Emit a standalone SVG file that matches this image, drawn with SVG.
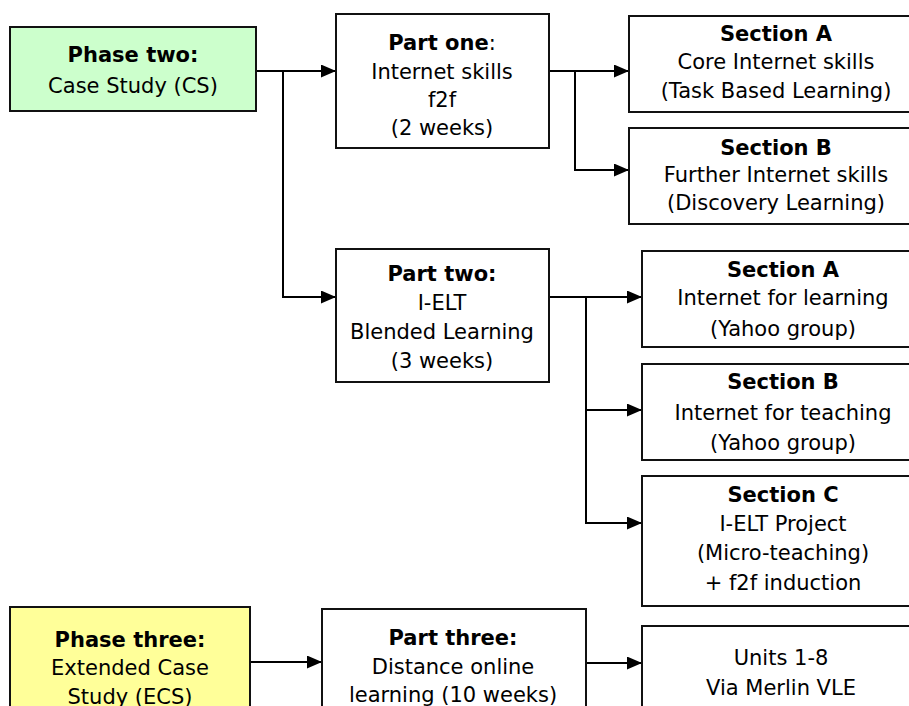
<svg xmlns="http://www.w3.org/2000/svg" width="909" height="706" viewBox="0 0 909 706">
  <defs>
    <marker id="arrow" markerWidth="15" markerHeight="13" refX="15" refY="6.5" orient="auto" markerUnits="userSpaceOnUse">
      <path d="M0,0 L15,6.5 L0,13 Z" fill="#000"/>
    </marker>
    <style>
      .box { fill: #fff; stroke: #111; stroke-width: 2; }
      .green { fill: #ccffcc; }
      .yellow { fill: #ffff99; }
      text { font-family: "DejaVu Sans", Verdana, sans-serif; font-size: 21px; fill: #000; text-anchor: middle; }
      .b { font-weight: bold; }
      .link { fill: none; stroke: #000; stroke-width: 2; }
    </style>
  </defs>
  <rect width="909" height="706" fill="#fff"/>

  <!-- connectors -->
  <g id="connectors">
    <path class="link" d="M256,71 H336" marker-end="url(#arrow)"/>
    <path class="link" d="M283,71 V297 H336" marker-end="url(#arrow)"/>
    <path class="link" d="M549,71 H629" marker-end="url(#arrow)"/>
    <path class="link" d="M575,71 V170 H629" marker-end="url(#arrow)"/>
    <path class="link" d="M549,297 H642" marker-end="url(#arrow)"/>
    <path class="link" d="M586,297 V410 H642" marker-end="url(#arrow)"/>
    <path class="link" d="M586,410 V523 H642" marker-end="url(#arrow)"/>
    <path class="link" d="M250,662 H322" marker-end="url(#arrow)"/>
    <path class="link" d="M586,663 H642" marker-end="url(#arrow)"/>
  </g>

  <g id="phase-two">
    <rect class="box green" x="10" y="27" width="246" height="84"/>
    <text x="133" y="62" class="b">Phase two:</text>
    <text x="133" y="93">Case Study (CS)</text>
  </g>

  <g id="part-one">
    <rect class="box" x="336" y="14" width="213" height="134"/>
    <text x="442" y="50"><tspan class="b">Part one</tspan>:</text>
    <text x="442" y="79">Internet skills</text>
    <text x="442" y="107">f2f</text>
    <text x="442" y="135">(2 weeks)</text>
  </g>

  <g id="part-two">
    <rect class="box" x="336" y="249" width="213" height="133"/>
    <text x="442" y="281" class="b">Part two:</text>
    <text x="442" y="310">I-ELT</text>
    <text x="442" y="339">Blended Learning</text>
    <text x="442" y="368">(3 weeks)</text>
  </g>

  <g id="p1-section-a">
    <rect class="box" x="629" y="16" width="296" height="96"/>
    <text x="776" y="41" class="b">Section A</text>
    <text x="776" y="69">Core Internet skills</text>
    <text x="776" y="98">(Task Based Learning)</text>
  </g>

  <g id="p1-section-b">
    <rect class="box" x="629" y="128" width="296" height="96"/>
    <text x="776" y="155" class="b">Section B</text>
    <text x="776" y="182">Further Internet skills</text>
    <text x="776" y="210">(Discovery Learning)</text>
  </g>

  <g id="p2-section-a">
    <rect class="box" x="642" y="251" width="283" height="96"/>
    <text x="783" y="277" class="b">Section A</text>
    <text x="783" y="305">Internet for learning</text>
    <text x="783" y="336">(Yahoo group)</text>
  </g>

  <g id="p2-section-b">
    <rect class="box" x="642" y="364" width="283" height="96"/>
    <text x="783" y="389" class="b">Section B</text>
    <text x="783" y="420">Internet for teaching</text>
    <text x="783" y="450">(Yahoo group)</text>
  </g>

  <g id="p2-section-c">
    <rect class="box" x="642" y="476" width="283" height="130"/>
    <text x="783" y="502" class="b">Section C</text>
    <text x="783" y="531">I-ELT Project</text>
    <text x="783" y="560">(Micro-teaching)</text>
    <text x="783" y="590">+ f2f induction</text>
  </g>

  <g id="phase-three">
    <rect class="box yellow" x="10" y="607" width="240" height="120"/>
    <text x="130" y="647" class="b">Phase three:</text>
    <text x="130" y="675">Extended Case</text>
    <text x="130" y="704">Study (ECS)</text>
  </g>

  <g id="part-three">
    <rect class="box" x="322" y="609" width="264" height="120"/>
    <text x="453" y="645" class="b">Part three:</text>
    <text x="453" y="674">Distance online</text>
    <text x="453" y="702">learning (10 weeks)</text>
  </g>

  <g id="units">
    <rect class="box" x="642" y="626" width="283" height="100"/>
    <text x="781" y="665">Units 1-8</text>
    <text x="781" y="695">Via Merlin VLE</text>
  </g>
</svg>
